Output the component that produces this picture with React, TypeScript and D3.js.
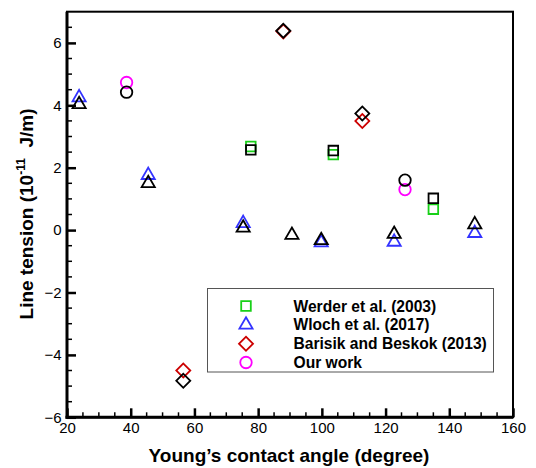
import { useRef, useEffect } from 'react';
import * as d3 from 'd3';

// contact angle (deg) / line tension (1e-11 J/m)
const werderAngle = [77.7, 103.6, 135];
const werderTension = [2.68, 2.42, 0.67];
const werderOurs = [2.57, 2.55, 1.02];

const wlochAngle = [23.8, 45.5, 75.3, 99.8, 122.7, 148];
const wlochTension = [4.25, 1.76, 0.22, -0.4, -0.38, -0.1];
const wlochOursAngle = [23.8, 45.5, 75.3, 90.6, 99.8, 122.7, 148];
const wlochOurs = [4.03, 1.5, 0.07, -0.16, -0.33, -0.13, 0.18];

const barisikAngle = [56.5, 87.9, 112.7];
const barisikTension = [-4.5, 6.37, 3.5];
const barisikOurs = [-4.83, 6.39, 3.74];

const ourAngle = [38.7, 126.1];
const ourTension = [4.73, 1.3];
const ourBlack = [4.42, 1.6];

const xTicks = [20, 40, 60, 80, 100, 120, 140, 160];
const yTicks = [-6, -4, -2, 0, 2, 4, 6];

const legendLabels = ['Werder et al. (2003)', 'Wloch et al. (2017)', 'Barisik and Beskok (2013)', 'Our work'];

const App = () => {
  const svgRef = useRef(null);

  useEffect(() => {
    const width = 536;
    const height = 468;
    const svg = d3.select(svgRef.current).attr('viewBox', `0 0 ${width} ${height}`);
    svg.selectAll('*').remove();

    const font = 'Arial, "Liberation Sans", sans-serif';
    const x = d3.scaleLinear().domain([20, 160]).range([67, 513]);
    const y = d3.scaleLinear().domain([-6, 7]).range([417.3, 11.7]);

    // frame
    svg.append('rect')
      .attr('x', x(20)).attr('y', y(7))
      .attr('width', x(160) - x(20)).attr('height', y(-6) - y(7))
      .attr('fill', 'none').attr('stroke', '#000').attr('stroke-width', 2);

    // minor ticks
    const minorX = d3.range(25, 160, 5).filter(v => v % 20 !== 0);
    const minorY = d3.range(-5.5, 7, 0.5).filter(v => v % 2 !== 0);
    const minorG = svg.append('g').attr('stroke', '#000').attr('stroke-width', 1.5);
    minorG.selectAll('.mx').data(minorX).join('line')
      .attr('x1', d => x(d)).attr('x2', d => x(d))
      .attr('y1', y(-6)).attr('y2', y(-6) - 5);
    minorG.selectAll('.my').data(minorY).join('line')
      .attr('class', 'my')
      .attr('y1', d => y(d)).attr('y2', d => y(d))
      .attr('x1', x(20)).attr('x2', x(20) + 5);

    const xAxis = svg.append('g')
      .attr('transform', `translate(0,${y(-6)})`)
      .call(d3.axisBottom(x).tickValues(xTicks).tickSizeInner(-9).tickSizeOuter(0).tickPadding(5.5));
    const yAxis = svg.append('g')
      .attr('transform', `translate(${x(20)},0)`)
      .call(d3.axisLeft(y).tickValues(yTicks).tickSizeInner(-9).tickSizeOuter(0).tickPadding(5.5));
    [xAxis, yAxis].forEach(a => {
      a.select('.domain').attr('stroke-width', 3).attr('stroke', '#000');
      a.selectAll('.tick line').attr('stroke-width', 2.5).attr('stroke', '#000');
      a.selectAll('.tick text').attr('font-family', font).attr('font-size', 15).attr('fill', '#000');
    });
    xAxis.select('.domain').attr('d', `M${x(20) - 1.5},0H${x(160)}`);
    yAxis.select('.domain').attr('d', `M0,${y(-6) + 1.5}V${y(7)}`);

    // axis titles
    svg.append('text')
      .attr('x', 289).attr('y', 462)
      .attr('text-anchor', 'middle')
      .attr('font-family', font).attr('font-weight', 'bold').attr('font-size', 19)
      .text('Young\u2019s contact angle (degree)');

    const yt = svg.append('text')
      .attr('transform', 'translate(33,214) rotate(-90)')
      .attr('text-anchor', 'middle')
      .attr('font-family', font).attr('font-weight', 'bold').attr('font-size', 19);
    yt.append('tspan').text('Line tension (10');
    yt.append('tspan').attr('font-size', 12).attr('dy', -8).text('-11');
    yt.append('tspan').attr('dy', 8).text('\u00a0 J/m)');

    const shapes = {
      square: d3.symbol().type(d3.symbolSquare).size(92),
      triangle: d3.symbol().type(d3.symbolTriangle).size(75),
      diamond: d3.symbol().type(d3.symbolSquare).size(98),
      circle: d3.symbol().type(d3.symbolCircle).size(104),
    };
    const rot = s => (s === 'diamond' ? ' rotate(45)' : '');

    const series = [
      { xs: werderAngle, ys: werderTension, shape: 'square', color: '#18d018' },
      { xs: wlochAngle, ys: wlochTension, shape: 'triangle', color: '#3333ff' },
      { xs: barisikAngle, ys: barisikTension, shape: 'diamond', color: '#cc0000' },
      { xs: ourAngle, ys: ourTension, shape: 'circle', color: '#ff00ff' },
      { xs: werderAngle, ys: werderOurs, shape: 'square', color: '#000' },
      { xs: wlochOursAngle, ys: wlochOurs, shape: 'triangle', color: '#000' },
      { xs: barisikAngle, ys: barisikOurs, shape: 'diamond', color: '#000' },
      { xs: ourAngle, ys: ourBlack, shape: 'circle', color: '#000' },
    ];

    series.forEach(s => {
      svg.append('g').selectAll('path')
        .data(s.xs.map((a, i) => [a, s.ys[i]]))
        .join('path')
        .attr('d', shapes[s.shape]())
        .attr('transform', d => `translate(${x(d[0])},${y(d[1])})${rot(s.shape)}`)
        .attr('fill', 'none')
        .attr('stroke', s.color)
        .attr('stroke-width', 1.8);
    });

    // legend
    const lg = svg.append('g');
    lg.append('rect')
      .attr('x', 207.5).attr('y', 288.5).attr('width', 286).attr('height', 83.5)
      .attr('fill', '#fff').attr('stroke', '#555').attr('stroke-width', 1);
    const rowY = d3.scaleLinear().domain([0, 3]).range([306, 362.5]);
    series.slice(0, 4).forEach((s, i) => {
      lg.append('path')
        .attr('d', shapes[s.shape]())
        .attr('transform', `translate(246,${rowY(i)})${rot(s.shape)}`)
        .attr('fill', 'none').attr('stroke', s.color).attr('stroke-width', 1.8);
      lg.append('text')
        .attr('x', 293.5).attr('y', rowY(i)).attr('dy', '0.36em')
        .attr('font-family', font).attr('font-weight', 'bold').attr('font-size', 15.6)
        .text(legendLabels[i]);
    });
  }, []);

  return (
    <svg ref={svgRef} width={536} height={468}
      style={{ position: 'absolute', left: 0, top: 0, background: '#fff' }} />
  );
};

export default App;
